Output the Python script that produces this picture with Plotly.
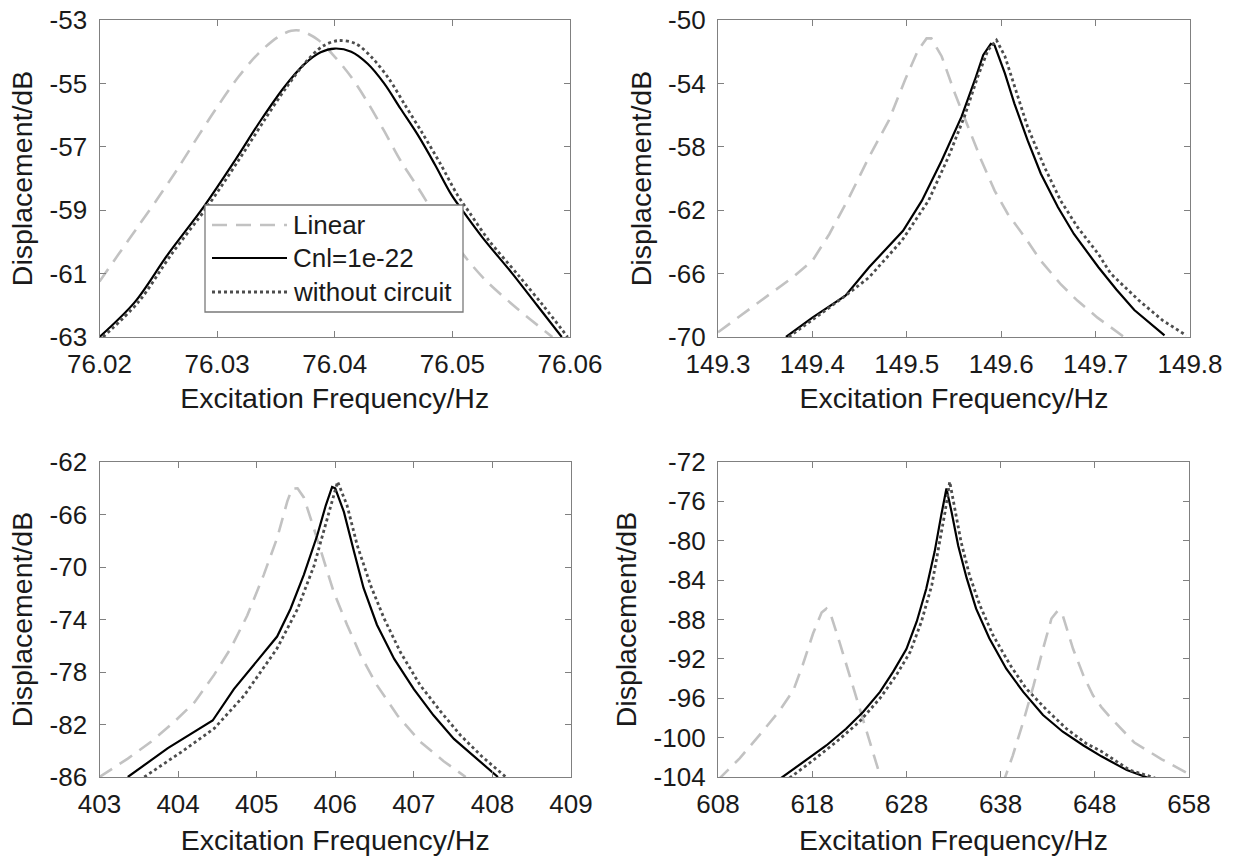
import plotly.graph_objects as go

# ---------------- data ----------------
series_names = ["Linear", "Cnl=1e-22", "without circuit"]

# Panel 1 (top-left)
p1_lin_x = [76.0200, 76.0216, 76.0233, 76.0250, 76.0267, 76.0285, 76.0300, 76.0318, 76.0335, 76.0352, 76.0363, 76.0371, 76.0386, 76.0400, 76.0414, 76.0428, 76.0442, 76.0456, 76.0471, 76.0485, 76.0499, 76.0513, 76.0528, 76.0555, 76.0585]
p1_lin_y = [-61.25, -60.4, -59.5, -58.6, -57.66, -56.6, -55.75, -54.8, -54.06, -53.53, -53.34, -53.34, -53.63, -54.16, -54.8, -55.6, -56.5, -57.44, -58.3, -59.14, -59.88, -60.57, -61.2, -62.1, -63.0]
p1_cnl_x = [76.0200, 76.0230, 76.0258, 76.0289, 76.0315, 76.0337, 76.0357, 76.0374, 76.0388, 76.0400, 76.0414, 76.0428, 76.0442, 76.0456, 76.0471, 76.0485, 76.0499, 76.0509, 76.0526, 76.0551, 76.0572, 76.0593]
p1_cnl_y = [-63.0, -61.9, -60.4, -58.87, -57.44, -56.17, -55.12, -54.4, -54.02, -53.9, -54.0, -54.38, -55.0, -55.8, -56.65, -57.55, -58.5, -59.03, -59.88, -61.0, -62.0, -63.0]
p1_woc_x = [76.0203, 76.0233, 76.0261, 76.0292, 76.0318, 76.0340, 76.0359, 76.0376, 76.0390, 76.0403, 76.0418, 76.0432, 76.0446, 76.0460, 76.0475, 76.0490, 76.0504, 76.0515, 76.0531, 76.0556, 76.0577, 76.0598]
p1_woc_y = [-63.0, -61.9, -60.4, -58.87, -57.44, -56.17, -55.12, -54.3, -53.82, -53.65, -53.75, -54.2, -54.85, -55.7, -56.6, -57.55, -58.5, -59.1, -59.95, -61.05, -62.0, -63.0]

# Panel 2 (top-right)
p2_lin_x = [149.300, 149.326, 149.354, 149.379, 149.400, 149.418, 149.439, 149.460, 149.481, 149.498, 149.512, 149.521, 149.526, 149.537, 149.551, 149.565, 149.579, 149.593, 149.607, 149.625, 149.642, 149.663, 149.681, 149.702, 149.716, 149.729]
p2_lin_y = [-69.7, -68.57, -67.3, -66.24, -65.19, -63.5, -61.18, -58.65, -56.33, -53.8, -51.9, -51.16, -51.16, -52.3, -54.64, -56.75, -58.86, -60.76, -62.24, -63.7, -65.19, -66.67, -67.72, -68.78, -69.4, -69.95]
p2_cnl_x = [149.372, 149.400, 149.435, 149.460, 149.496, 149.516, 149.537, 149.558, 149.572, 149.581, 149.589, 149.593, 149.604, 149.614, 149.628, 149.642, 149.660, 149.677, 149.703, 149.722, 149.741, 149.773]
p2_cnl_y = [-70.0, -68.78, -67.4, -65.6, -63.3, -61.4, -58.86, -56.1, -53.8, -52.2, -51.5, -51.6, -53.38, -55.27, -57.6, -59.7, -61.8, -63.5, -65.6, -67.0, -68.3, -69.9]
p2_woc_x = [149.375, 149.405, 149.435, 149.460, 149.495, 149.523, 149.544, 149.561, 149.575, 149.586, 149.595, 149.604, 149.614, 149.628, 149.646, 149.663, 149.681, 149.703, 149.716, 149.746, 149.771, 149.796]
p2_woc_y = [-70.0, -68.7, -67.4, -66.24, -63.9, -61.4, -58.65, -56.1, -53.6, -51.9, -51.27, -52.3, -54.2, -56.75, -59.3, -61.4, -63.08, -64.77, -66.0, -67.7, -68.95, -69.9]

# Panel 3 (bottom-left)
p3_lin_x = [403.00, 403.36, 403.66, 403.95, 404.21, 404.46, 404.67, 404.88, 405.09, 405.26, 405.39, 405.45, 405.52, 405.60, 405.73, 405.86, 405.98, 406.15, 406.32, 406.53, 406.79, 407.08, 407.38, 407.66]
p3_lin_y = [-86.0, -84.6, -83.3, -81.8, -80.3, -78.2, -76.2, -73.7, -70.6, -67.8, -65.0, -64.03, -64.0, -64.7, -67.1, -69.6, -71.9, -74.4, -76.7, -79.0, -81.3, -83.3, -84.8, -86.0]
p3_cnl_x = [403.36, 403.87, 404.44, 404.71, 405.26, 405.43, 405.60, 405.77, 405.88, 405.96, 406.00, 406.11, 406.24, 406.36, 406.53, 406.75, 407.00, 407.25, 407.51, 407.80, 408.07]
p3_cnl_y = [-86.0, -83.8, -81.7, -79.3, -75.3, -73.2, -70.6, -67.6, -65.3, -63.9, -64.0, -65.8, -68.85, -71.6, -74.4, -77.0, -79.3, -81.3, -83.1, -84.6, -86.0]
p3_woc_x = [403.57, 404.04, 404.46, 404.84, 405.26, 405.52, 405.73, 405.90, 406.03, 406.15, 406.28, 406.45, 406.62, 406.83, 407.08, 407.34, 407.59, 407.86, 408.17]
p3_woc_y = [-86.0, -84.1, -82.3, -79.8, -76.2, -73.2, -69.9, -66.3, -63.5, -65.3, -68.35, -71.4, -73.9, -76.5, -79.0, -81.0, -82.8, -84.4, -86.0]

# Panel 4 (bottom-right); the linear curve leaves the axes between the two side peaks
p4_lin_x = [608.0, 608.5, 610.3, 612.4, 614.5, 616.0, 617.0, 618.1, 619.0, 619.5, 620.0, 620.9, 622.0, 623.0, 624.1, 625.0, 625.5, None,
            638.2, 639.3, 640.4, 641.5, 642.5, 643.4, 644.1, 644.6, 645.7, 646.8, 647.8, 648.7, 649.7, 652.2, 655.1, 657.6, 658.0]
p4_lin_y = [-104.3, -103.8, -102.1, -99.75, -97.3, -95.2, -92.6, -89.4, -87.3, -86.9, -87.6, -90.3, -93.7, -97.0, -100.4, -103.1, -104.8, None,
            -104.8, -101.8, -98.4, -94.7, -91.0, -87.9, -87.06, -87.6, -91.0, -93.7, -95.7, -96.9, -98.0, -100.5, -102.2, -103.5, -103.7]
p4_cnl_x = [614.7, 617.0, 619.5, 621.6, 623.4, 625.2, 626.6, 628.0, 629.1, 630.1, 631.0, 631.7, 632.25, 632.8, 633.5, 634.4, 635.4, 636.8, 638.6, 640.4, 642.5, 644.6, 646.8, 648.7, 651.4, 653.7]
p4_cnl_y = [-104.1, -102.5, -100.8, -99.1, -97.4, -95.35, -93.3, -91.0, -88.2, -84.9, -81.1, -77.4, -74.7, -77.1, -80.5, -83.8, -86.9, -89.9, -93.0, -95.35, -97.7, -99.4, -100.8, -101.9, -103.3, -104.1]
p4_woc_x = [615.6, 618.1, 620.6, 623.0, 625.2, 626.9, 628.4, 629.6, 630.7, 631.5, 632.1, 632.6, 633.1, 633.8, 634.7, 635.8, 637.2, 639.0, 640.7, 642.9, 645.0, 647.1, 648.7, 651.7, 654.4]
p4_woc_y = [-104.1, -102.3, -100.4, -98.4, -96.0, -93.7, -91.3, -88.2, -84.5, -80.5, -77.1, -74.0, -76.4, -80.1, -83.5, -86.55, -89.6, -92.6, -95.0, -97.2, -99.1, -100.6, -101.4, -103.3, -104.1]

x_ranges = [[76.02, 76.06], [149.3, 149.8], [403, 409], [608, 658]]
y_ranges = [[-63, -53], [-70, -50], [-86, -62], [-104, -72]]
x_ticks = [[76.02, 76.03, 76.04, 76.05, 76.06],
           [149.3, 149.4, 149.5, 149.6, 149.7, 149.8],
           [403, 404, 405, 406, 407, 408, 409],
           [608, 618, 628, 638, 648, 658]]
x_ticktext = [["76.02", "76.03", "76.04", "76.05", "76.06"],
              ["149.3", "149.4", "149.5", "149.6", "149.7", "149.8"],
              ["403", "404", "405", "406", "407", "408", "409"],
              ["608", "618", "628", "638", "648", "658"]]
y_ticks = [[-63, -61, -59, -57, -55, -53],
           [-70, -66, -62, -58, -54, -50],
           [-86, -82, -78, -74, -70, -66, -62],
           [-104, -100, -96, -92, -88, -84, -80, -76, -72]]
y_ticktext = [["-63", "-61", "-59", "-57", "-55", "-53"],
              ["-70", "-66", "-62", "-58", "-54", "-50"],
              ["-86", "-82", "-78", "-74", "-70", "-66", "-62"],
              ["-104", "-100", "-96", "-92", "-88", "-84", "-80", "-76", "-72"]]

panels = [
    (p1_lin_x, p1_lin_y, p1_cnl_x, p1_cnl_y, p1_woc_x, p1_woc_y),
    (p2_lin_x, p2_lin_y, p2_cnl_x, p2_cnl_y, p2_woc_x, p2_woc_y),
    (p3_lin_x, p3_lin_y, p3_cnl_x, p3_cnl_y, p3_woc_x, p3_woc_y),
    (p4_lin_x, p4_lin_y, p4_cnl_x, p4_cnl_y, p4_woc_x, p4_woc_y),
]

# ---------------- styling / layout ----------------
W, H = 1236, 857
FONT = "Liberation Sans, Arial, sans-serif"
TXT = "#1a1a1a"
AXC = "#808080"
px_x = [(99.5, 570), (718, 1190), (99.5, 571), (718, 1189)]
px_y = [(20, 337), (20, 337), (462, 777), (462, 777)]
x_title_standoff = [9, 9, 11, 11]

line_styles = [
    dict(color="#c2c2c2", width=2.6, dash="15px,9px"),
    dict(color="#000000", width=2.2),
    dict(color="#4d4d4d", width=2.8, dash="dot"),
]

fig = go.Figure()
for i, pan in enumerate(panels):
    ax = "" if i == 0 else str(i + 1)
    for k in range(3):
        st = dict(line_styles[k])
        if i == 0:
            st.update(shape="spline", smoothing=0.9)
        fig.add_trace(go.Scatter(
            x=pan[2 * k], y=pan[2 * k + 1], mode="lines",
            name=series_names[k], showlegend=False, line=st,
            xaxis="x" + ax, yaxis="y" + ax, connectgaps=False,
        ))

layout = dict(
    width=W, height=H, margin=dict(l=0, r=0, t=0, b=0),
    paper_bgcolor="white", plot_bgcolor="white",
    font=dict(family=FONT, size=26, color=TXT),
    showlegend=False,
)
axis_common = dict(showgrid=False, zeroline=False, showline=True, linecolor=AXC,
                   linewidth=1.3, mirror="ticks", ticks="inside", ticklen=6, tickwidth=1.2,
                   tickcolor=AXC, automargin=False,
                   tickfont=dict(family=FONT, size=26, color=TXT))
for i in range(4):
    ax = "" if i == 0 else str(i + 1)
    x0, x1 = px_x[i]
    y0, y1 = px_y[i]
    layout["xaxis" + ax] = dict(
        axis_common, domain=[x0 / W, x1 / W], range=x_ranges[i],
        tickmode="array", tickvals=x_ticks[i], ticktext=x_ticktext[i], anchor="y" + ax,
        ticklabelstandoff=4,
        title=dict(text="Excitation Frequency/Hz", font=dict(family=FONT, size=28.5, color=TXT),
                   standoff=x_title_standoff[i]),
    )
    layout["yaxis" + ax] = dict(
        axis_common, domain=[1 - y1 / H, 1 - y0 / H], range=y_ranges[i],
        tickmode="array", tickvals=y_ticks[i], ticktext=y_ticktext[i], anchor="x" + ax,
        ticklabelstandoff=6,
        title=dict(text="Displacement/dB", font=dict(family=FONT, size=28.5, color=TXT), standoff=8),
    )

# legend box drawn in the first panel (MATLAB-style legend)
leg_l, leg_r, leg_t, leg_b = 205, 463, 205, 312
leg_rows = [225, 258, 292]
shapes = [dict(type="rect", xref="paper", yref="paper",
               x0=leg_l / W, x1=leg_r / W, y0=1 - leg_b / H, y1=1 - leg_t / H,
               line=dict(color="#7a7a7a", width=1.3), fillcolor="white", layer="above")]
annotations = []
for k in range(3):
    yy = 1 - leg_rows[k] / H
    ls = line_styles[k]
    shapes.append(dict(type="line", xref="paper", yref="paper",
                       x0=212 / W, x1=287 / W, y0=yy, y1=yy, layer="above",
                       line=dict(color=ls["color"], width=ls["width"], dash=ls.get("dash", "solid"))))
    annotations.append(dict(text=series_names[k], xref="paper", yref="paper",
                            x=291 / W, y=yy, xanchor="left", yanchor="middle", showarrow=False,
                            font=dict(family=FONT, size=26, color=TXT)))
layout["shapes"] = shapes
layout["annotations"] = annotations

fig.update_layout(**layout)
fig.write_html("out.html")
